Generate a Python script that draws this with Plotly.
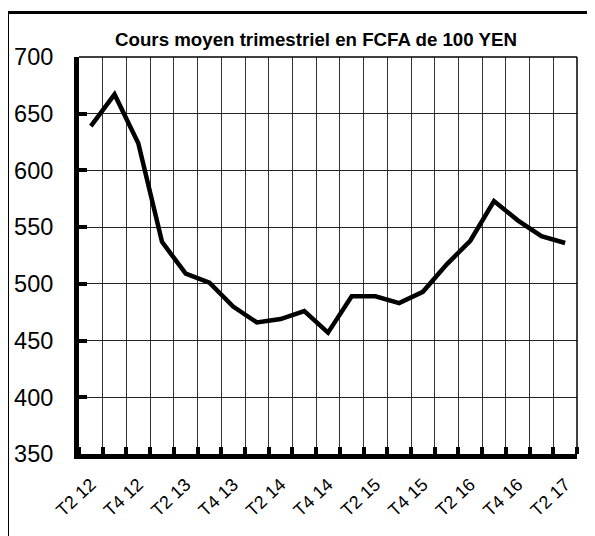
import plotly.graph_objects as go

quarters = ["T2 12", "T3 12", "T4 12", "T1 13", "T2 13", "T3 13", "T4 13",
            "T1 14", "T2 14", "T3 14", "T4 14", "T1 15", "T2 15", "T3 15",
            "T4 15", "T1 16", "T2 16", "T3 16", "T4 16", "T1 17", "T2 17"]
values = [639, 667, 624, 537, 509, 501, 480, 466, 469, 476, 457, 489, 489,
          483, 493, 517, 538, 573, 556, 542, 536]
y_ticks = [350, 400, 450, 500, 550, 600, 650, 700]
title_text = "Cours moyen trimestriel en FCFA de 100 YEN"

n = len(quarters)
xpos = list(range(n))
label_pos = xpos[::2]
label_text = quarters[::2]
boundaries = [i - 0.5 for i in range(n + 1)]

# page offset (html body margin)
OFF = 8
W, H = 595, 536
L, T = 79 - OFF, 57 - OFF
R = W - (577 - OFF)
B = H - (454 - OFF)
pw, ph = W - L - R, H - T - B

def px_x(p):
    return (p - OFF - L) / pw

def px_y(p):
    return (H - B - (p - OFF)) / ph

fig = go.Figure()
fig.add_trace(go.Scatter(
    x=xpos, y=values, mode="lines",
    line=dict(color="black", width=4.5),
    customdata=quarters, hovertemplate="%{customdata}: %{y}<extra></extra>",
    showlegend=False,
))

fig.update_layout(
    width=W, height=H,
    margin=dict(l=L, r=R, t=T, b=B, autoexpand=False),
    paper_bgcolor="white", plot_bgcolor="white",
    font=dict(family="Liberation Sans, Arial, sans-serif", color="black"),
    title=dict(text="<b>" + title_text + "</b>", font=dict(size=18.7, color="black"),
               x=(316 - OFF) / W, xanchor="center", xref="container",
               y=1 - (39 - OFF) / H, yanchor="middle", yref="container", automargin=False),
    xaxis=dict(
        range=[-0.5, n - 0.5], automargin=False,
        tickmode="array", tickvals=label_pos, ticktext=label_text,
        ticks="", showgrid=False,
        minor=dict(tickmode="array", tickvals=boundaries, ticks="inside",
                   ticklen=7, tickwidth=4, tickcolor="black",
                   showgrid=True, gridcolor="#333333", gridwidth=1),
        showline=True, linecolor="black", linewidth=5,
        tickangle=-43, tickfont=dict(size=18), ticklabelstandoff=8,
        zeroline=False,
    ),
    yaxis=dict(
        range=[350, 700], tickmode="array", tickvals=y_ticks, automargin=False,
        ticks="inside", ticklen=8, tickwidth=4, tickcolor="black",
        showgrid=True, gridcolor="#222222", gridwidth=1,
        showline=True, linecolor="black", linewidth=5,
        tickfont=dict(size=23.5), ticklabelstandoff=16,
        zeroline=False,
    ),
    shapes=[
        dict(type="line", xref="paper", yref="paper", x0=0, x1=1, y0=1, y1=1,
             line=dict(color="black", width=1.5)),
        dict(type="line", xref="paper", yref="paper", x0=1, x1=1, y0=0, y1=1,
             line=dict(color="black", width=1.5)),
        dict(type="line", xref="paper", yref="paper",
             x0=px_x(6.5), x1=px_x(6.5), y0=px_y(11), y1=px_y(560),
             line=dict(color="black", width=5)),
        dict(type="line", xref="paper", yref="paper",
             x0=px_x(4), x1=px_x(600), y0=px_y(12.5), y1=px_y(12.5),
             line=dict(color="black", width=3)),
        dict(type="line", xref="paper", yref="paper",
             x0=px_x(593.5), x1=px_x(593.5), y0=px_y(12.5), y1=px_y(560),
             line=dict(color="#aaaaaa", width=1)),
    ],
)

fig.write_html("out.html")
